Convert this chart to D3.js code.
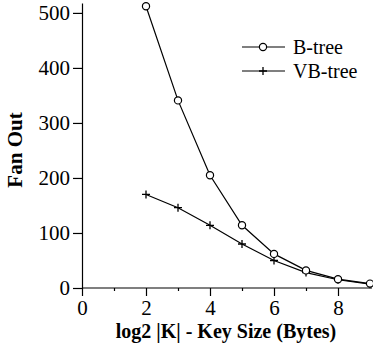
<!DOCTYPE html>
<html lang="en">
<head>
<meta charset="utf-8">
<title>Fan out vs key size</title>
<script src="https://d3js.org/d3.v7.min.js"></script>
<style>
    body { margin: 0; background: #fff; }
    .axis path, .axis line { stroke: #000; stroke-width: 1.2; }
</style>
</head>
<body>
<script>
// data
var keySizes = [2, 3, 4, 5, 6, 7, 8, 9];
var btree = [512, 341, 205, 114, 62, 32, 16, 8];
var vbtree = [170, 146, 114, 80, 50, 28, 15, 7];
var xTicks = [0, 2, 4, 6, 8];
var xMinor = [1, 3, 5, 7];
var yTicks = [0, 100, 200, 300, 400, 500];
var seriesNames = ["B-tree", "VB-tree"];

var width = 373, height = 354;
var serif = "Liberation Serif";

var svg = d3.select("body").append("svg")
    .attr("width", width)
    .attr("height", height)
    .attr("font-family", serif);

var x = d3.scaleLinear().domain([0, 9]).range([82, 370]);
var y = d3.scaleLinear().domain([0, 518]).range([288, 3]);

function styleAxis(g) {
    g.attr("font-family", serif).attr("font-size", 21);
    g.selectAll("text")
        .attr("font-family", serif)
        .attr("font-size", 21)
        .attr("fill", "#000");
}

// x axis
var xAxis = svg.append("g")
    .attr("class", "axis")
    .attr("transform", "translate(0," + y(0) + ")")
    .call(d3.axisBottom(x).tickValues(xTicks).tickSize(8).tickSizeOuter(0).tickPadding(4))
    .call(styleAxis);
xAxis.select(".domain").attr("d", "M" + x(0) + ",0H" + (x(9) + 2));

svg.append("g")
    .attr("class", "axis")
    .attr("transform", "translate(0," + y(0) + ")")
    .call(d3.axisBottom(x).tickValues(xMinor).tickSize(3).tickFormat(""))
    .select(".domain").remove();

// y axis
svg.append("g")
    .attr("class", "axis")
    .attr("transform", "translate(" + x(0) + ",0)")
    .call(d3.axisLeft(y).tickValues(yTicks).tickSize(9).tickSizeOuter(0).tickPadding(3))
    .call(styleAxis);

// axis titles
svg.append("text")
    .attr("x", 226)
    .attr("y", 338)
    .attr("text-anchor", "middle")
    .attr("font-weight", "bold")
    .attr("font-size", 20)
    .text("log2 |K| - Key Size (Bytes)");

svg.append("text")
    .attr("transform", "translate(22,150) rotate(-90)")
    .attr("text-anchor", "middle")
    .attr("font-weight", "bold")
    .attr("font-size", 21)
    .text("Fan Out");

var line = d3.line()
    .x(function(d, i) { return x(keySizes[i]); })
    .y(function(d) { return y(d); });

function drawPlus(g, cx, cy) {
    g.append("path")
        .attr("d", "M" + (cx - 4) + "," + cy + "H" + (cx + 4) + "M" + cx + "," + (cy - 4) + "V" + (cy + 4))
        .attr("stroke", "#000")
        .attr("stroke-width", 1.3);
}

// VB-tree
svg.append("path")
    .datum(vbtree)
    .attr("fill", "none")
    .attr("stroke", "#000")
    .attr("stroke-width", 1.2)
    .attr("d", line);
var plusG = svg.append("g");
vbtree.forEach(function(v, i) { drawPlus(plusG, x(keySizes[i]), y(v)); });

// B-tree
svg.append("path")
    .datum(btree)
    .attr("fill", "none")
    .attr("stroke", "#000")
    .attr("stroke-width", 1.2)
    .attr("d", line);
svg.append("g").selectAll("circle")
    .data(btree)
    .enter().append("circle")
    .attr("cx", function(d, i) { return x(keySizes[i]); })
    .attr("cy", function(d) { return y(d); })
    .attr("r", 3.6)
    .attr("fill", "#fff")
    .attr("stroke", "#000")
    .attr("stroke-width", 1.2);

// legend
var legend = svg.append("g").attr("transform", "translate(242,47)");
seriesNames.forEach(function(name, i) {
    var row = legend.append("g").attr("transform", "translate(0," + (i * 24) + ")");
    row.append("line")
        .attr("x1", 0).attr("x2", 43)
        .attr("stroke", "#000").attr("stroke-width", 1.2);
    if (i === 0) {
        row.append("circle").attr("cx", 21).attr("r", 3.6)
            .attr("fill", "#fff").attr("stroke", "#000").attr("stroke-width", 1.2);
    } else {
        drawPlus(row, 21, 0);
    }
    row.append("text")
        .attr("x", 51)
        .attr("y", 7)
        .attr("font-size", 20)
        .text(name);
});
</script>
</body>
</html>
